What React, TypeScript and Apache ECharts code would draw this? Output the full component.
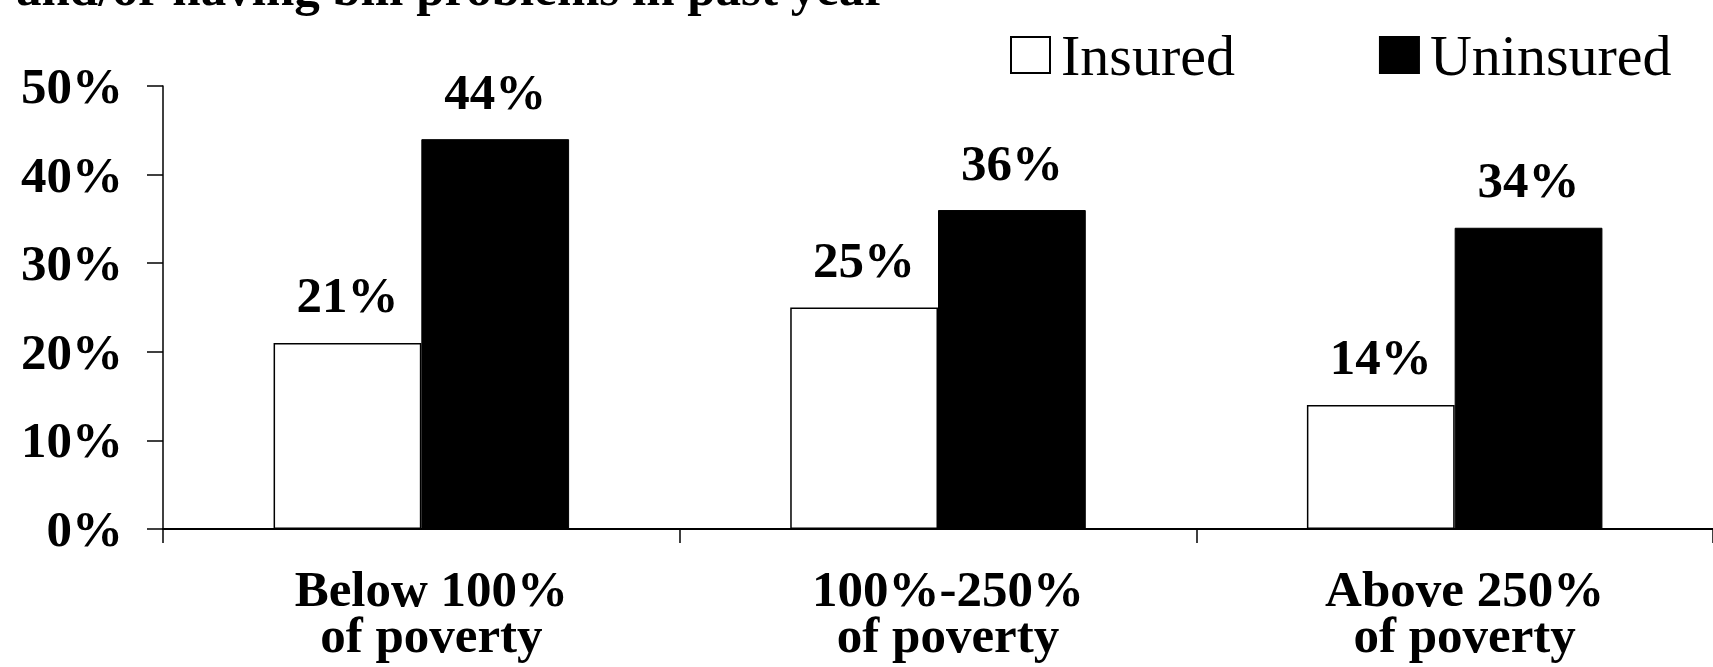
import React, { useEffect, useRef } from "react";
import * as echarts from "echarts";

const categories = ["Below 100%\nof poverty", "100%-250%\nof poverty", "Above 250%\nof poverty"];
const insured = [21, 25, 14];
const uninsured = [44, 36, 34];
const yTicks = { min: 0, max: 50, interval: 10 };
const titleLine = "and/or having bill problems in past year";
const seriesNames = ["Insured", "Uninsured"];

const FONT = '"Liberation Serif", "Times New Roman", serif';

export default function App() {
  const ref = useRef<HTMLDivElement>(null);
  useEffect(() => {
    if (!ref.current) return;
    const chart = echarts.init(ref.current, undefined, { renderer: "svg" });
    const labelStyle = {
      show: true,
      position: "top",
      distance: 22,
      formatter: "{c}%",
      fontFamily: FONT,
      fontWeight: "bold",
      fontSize: 51,
      color: "#000",
    };
    chart.setOption({
      animation: false,
      backgroundColor: "#fff",
      textStyle: { fontFamily: FONT },
      graphic: [
        {
          type: "text",
          left: 16,
          top: -38,
          style: {
            text: titleLine,
            fontFamily: FONT,
            fontWeight: "bold",
            fontSize: 51,
            lineHeight: 51,
            fill: "#000",
          },
        },
      ],
      legend: {
        left: 1005,
        top: 21,
        itemWidth: 39,
        itemHeight: 36,
        itemGap: 144,
        selectedMode: false,
        icon: "rect",
        textStyle: {
          fontFamily: FONT,
          fontSize: 58,
          lineHeight: 36,
          color: "#000",
          padding: [0, 0, 0, 6],
        },
        data: seriesNames,
      },
      grid: { left: 163, top: 86, height: 443, width: 1555 },
      xAxis: {
        type: "category",
        data: categories,
        axisLine: { lineStyle: { color: "#000", width: 2 } },
        axisTick: { show: true, length: 14, lineStyle: { color: "#000", width: 1.5 } },
        axisLabel: {
          margin: 37,
          fontFamily: FONT,
          fontWeight: "bold",
          fontSize: 51,
          lineHeight: 46,
          color: "#000",
          padding: [0, 0, 0, 20],
        },
      },
      yAxis: {
        type: "value",
        min: yTicks.min,
        max: yTicks.max,
        interval: yTicks.interval,
        splitLine: { show: false },
        axisLine: { show: true, lineStyle: { color: "#000", width: 1.5 } },
        axisTick: { show: true, length: 16, lineStyle: { color: "#000", width: 1.5 } },
        axisLabel: {
          margin: 40,
          formatter: "{value}%",
          fontFamily: FONT,
          fontWeight: "bold",
          fontSize: 51,
          color: "#000",
        },
      },
      series: [
        {
          name: seriesNames[0],
          type: "bar",
          data: insured,
          barGap: "0%",
          barCategoryGap: "42.8%",
          itemStyle: { color: "#fff", borderColor: "#000", borderWidth: 1.5 },
          label: labelStyle,
        },
        {
          name: seriesNames[1],
          type: "bar",
          data: uninsured,
          barGap: "0%",
          barCategoryGap: "42.8%",
          itemStyle: { color: "#000", borderColor: "#000", borderWidth: 1 },
          label: labelStyle,
        },
      ],
    });
    return () => chart.dispose();
  }, []);
  return (
    <div
      ref={ref}
      style={{ position: "absolute", left: 0, top: 0, width: 1713, height: 667 }}
    />
  );
}
